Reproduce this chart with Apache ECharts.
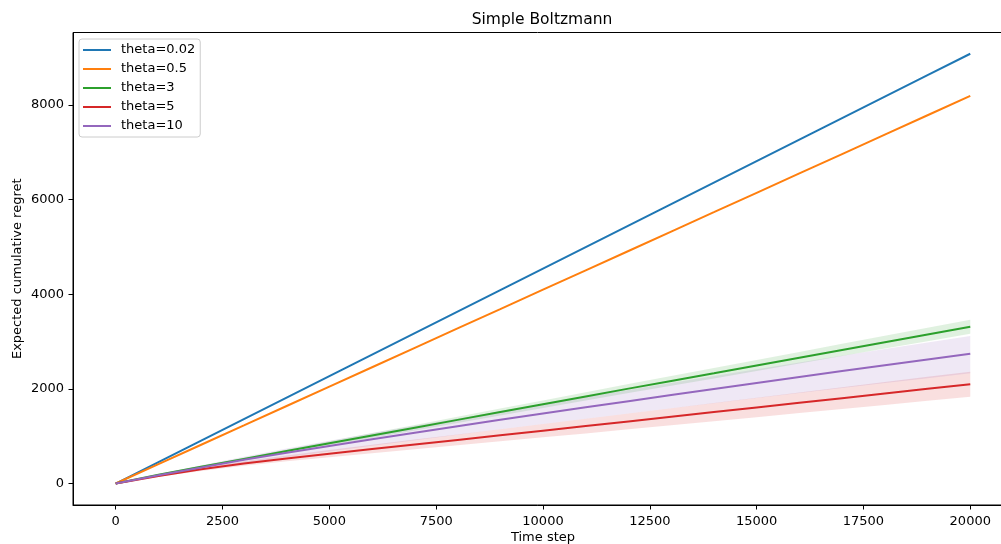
<!DOCTYPE html>
<html><head><meta charset="utf-8">
<script src="https://cdn.jsdelivr.net/npm/echarts@6/dist/echarts.min.js"></script>
<style>html,body{margin:0;padding:0;background:#fff}#c{width:1001px;height:544px}</style>
</head><body><div id="c"></div>
<script>
const steps = [0,1000,2000,3000,4000,5000,6000,7000,8000,9000,10000,11000,12000,13000,14000,15000,16000,17000,18000,19000,20000];
const seriesNames = ['theta=0.02','theta=0.5','theta=3','theta=5','theta=10'];
const xTicks = [0,2500,5000,7500,10000,12500,15000,17500,20000];
const yTicks = [0,2000,4000,6000,8000];

const blue   = [0,454,908,1362,1816,2270,2724,3178,3632,4086,4540,4994,5448,5902,6356,6810,7264,7718,8172,8626,9080];
const orange = [0,409,819,1228,1638,2047,2457,2866,3276,3685,4095,4504,4913,5323,5732,6142,6551,6961,7370,7780,8189];
const green  = [0,185,355,520,685,850,1015,1180,1345,1510,1675,1840,2005,2168,2330,2495,2658,2822,2986,3150,3314];
const greenLow  = [0,175,336,493,650,807,964,1122,1279,1437,1595,1752,1910,2066,2221,2379,2535,2692,2850,3007,3166];
const greenHigh = [0,195,374,547,720,893,1066,1238,1411,1583,1755,1928,2100,2270,2439,2611,2781,2952,3122,3293,3462];
const red    = [0,160,300,425,530,630,728,825,922,1020,1117,1214,1312,1410,1509,1607,1705,1804,1902,2001,2099];
const redLow    = [0,142,267,377,468,554,638,722,806,891,975,1059,1145,1230,1317,1402,1488,1575,1661,1748,1834];
const redHigh   = [0,178,333,473,592,706,818,928,1038,1149,1259,1369,1479,1590,1701,1812,1922,2033,2143,2254,2364];
const purple = [0,175,340,500,650,795,935,1073,1210,1345,1478,1610,1740,1870,1998,2125,2250,2375,2500,2622,2744];
const purpleLow  = [0,148,289,426,554,677,796,913,1030,1144,1257,1369,1479,1590,1698,1806,1911,2017,2123,2226,2330];
const purpleHigh = [0,200,387,568,738,903,1062,1219,1374,1528,1679,1829,1977,2124,2270,2414,2557,2699,2841,2980,3119];

const colors = ['#1f77b4','#ff7f0e','#2ca02c','#d62728','#9467bd'];
const FONT = 'DejaVu Sans';

function pairs(v){ return steps.map((t,i)=>[t,v[i]]); }
function band(key, lo, hi, rgba){
  return {
    name:key, type:'custom', coordinateSystem:'cartesian2d', silent:true, z:1, animation:false,
    data: steps.map((t,i)=>[t, lo[i], hi[i]]),
    encode:{x:0, y:[1,2]},
    renderItem:function(params, api){
      if (params.dataIndex !== 0) return null;
      const pts = [];
      for (let i=0;i<steps.length;i++) pts.push(api.coord([steps[i], hi[i]]));
      for (let i=steps.length-1;i>=0;i--) pts.push(api.coord([steps[i], lo[i]]));
      return {type:'polygon', shape:{points:pts}, style:{fill:rgba, stroke:null}};
    }
  };
}
function line(name, v, color){
  return {name:name, type:'line', data:pairs(v), showSymbol:false, symbol:'none',
    lineStyle:{color:color, width:2}, itemStyle:{color:color}, z:3, animation:false};
}

const series = [
  band('g', greenLow, greenHigh, 'rgba(44,160,44,0.15)'),
  band('r', redLow, redHigh, 'rgba(214,39,40,0.15)'),
  band('p', purpleLow, purpleHigh, 'rgba(148,103,189,0.15)'),
  line(seriesNames[0], blue, colors[0]),
  line(seriesNames[1], orange, colors[1]),
  line(seriesNames[2], green, colors[2]),
  line(seriesNames[3], red, colors[3]),
  line(seriesNames[4], purple, colors[4])
];

const chart = echarts.init(document.getElementById('c'), null, {renderer:'canvas'});
chart.setOption({
  animation:false,
  backgroundColor:'#ffffff',
  textStyle:{fontFamily:FONT},
  grid:{left:73, top:32.5, width:940, height:472.5, show:true, borderColor:'#000', borderWidth:1,
        backgroundColor:'transparent', containLabel:false, outerBoundsMode:'none'},
  graphic:[{type:'text', x:542, y:20, style:{text:'Simple Boltzmann', font:'15.5px "DejaVu Sans"', fill:'#000', textAlign:'center', textVerticalAlign:'middle'}}],
  legend:{
    data:seriesNames, orient:'vertical', left:79, top:39,
    icon:'rect', itemWidth:28, itemHeight:2, itemGap:4,
    padding:[3.5,5,3.5,4],
    backgroundColor:'rgba(255,255,255,0.8)', borderColor:'#cccccc', borderWidth:1, borderRadius:3,
    textStyle:{fontFamily:FONT, fontSize:13, color:'#000', lineHeight:15, padding:[0,0,0,5]},
    z:10
  },
  xAxis:{
    type:'value', min:-1000, max:21000,
    name:'Time step', nameLocation:'middle', nameGap:26, nameMoveOverlap:false,
    nameTextStyle:{fontFamily:FONT, fontSize:13, color:'#000'},
    axisLine:{show:true, onZero:false, lineStyle:{color:'#000', width:1}},
    axisTick:{show:true, length:4.5, inside:false, customValues:xTicks, lineStyle:{color:'#000'}},
    axisLabel:{show:true, customValues:xTicks, margin:10, fontFamily:FONT, fontSize:13, color:'#000',
               formatter:function(v){return String(v);}},
    splitLine:{show:false}
  },
  yAxis:{
    type:'value', min:-453.75, max:9528.75,
    name:'Expected cumulative regret', nameLocation:'middle', nameGap:49, nameMoveOverlap:false,
    nameTextStyle:{fontFamily:FONT, fontSize:13, color:'#000'},
    axisLine:{show:true, onZero:false, lineStyle:{color:'#000', width:1}},
    axisTick:{show:true, length:4.5, inside:false, customValues:yTicks, lineStyle:{color:'#000'}},
    axisLabel:{show:true, customValues:yTicks, margin:9, fontFamily:FONT, fontSize:13, color:'#000',
               formatter:function(v){return String(v);}},
    splitLine:{show:false}
  },
  series:series
});
</script>
</body></html>
